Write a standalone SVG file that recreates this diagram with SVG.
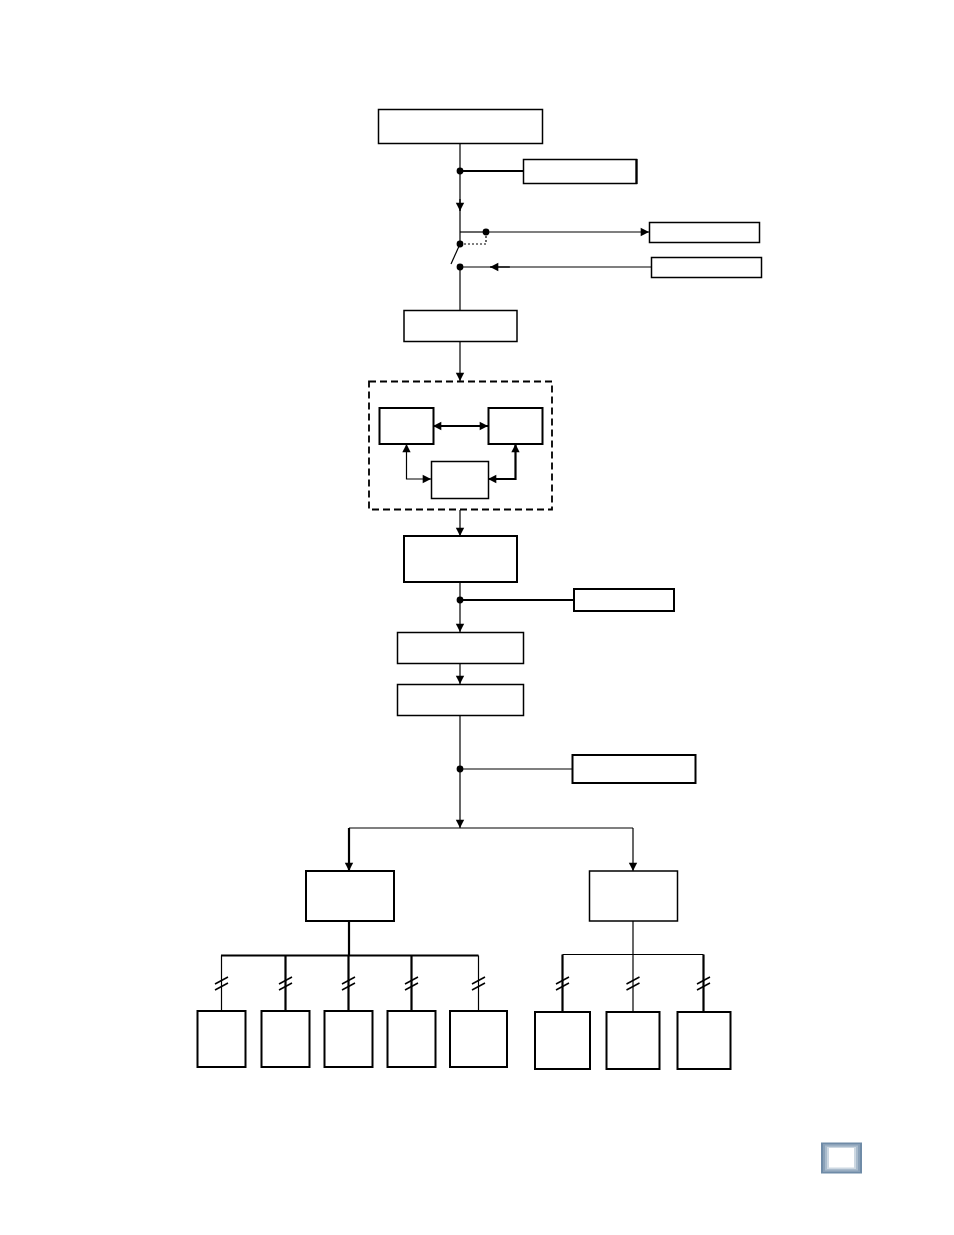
<svg xmlns="http://www.w3.org/2000/svg" width="954" height="1235" viewBox="0 0 954 1235">
<style>
.box{fill:#fff;stroke:#000;stroke-width:1.5}
.tb{fill:#fff;stroke:#000;stroke-width:2}
.ln{fill:none;stroke:#000;stroke-width:1.2}
.lt{fill:none;stroke:#000;stroke-width:2.2}
.dot{fill:#000}
.brk{fill:none;stroke:#000;stroke-width:1.5}
</style>
<defs>
<marker id="ah" viewBox="0 0 10 12" refX="10" refY="6" markerWidth="11" markerHeight="10" markerUnits="userSpaceOnUse" orient="auto-start-reverse">
<path d="M0,1 L10,6 L0,11 Z" fill="#000"/>
</marker>
</defs>
<rect width="954" height="1235" fill="#fff"/>

<g id="connectors">
<path class="ln" d="M460,143 V232"/>
<path class="ln" d="M460,199 V211" marker-end="url(#ah)"/>
<path class="lt" d="M460,171 H523"/>
<path class="ln" d="M460,232 H486"/>
<path class="ln" d="M486,232 H649" marker-end="url(#ah)"/>
<path class="ln" d="M460,232 V244"/>
<path class="ln" d="M460,244 H486 V232" stroke-dasharray="2,2"/>
<path class="ln" d="M460,244 L451,264"/>
<path class="ln" d="M651,267 H460"/>
<path class="ln" d="M510,267 H490" marker-end="url(#ah)"/>
<path class="ln" d="M460,267 V310"/>
<path class="ln" d="M460,342 V381" marker-end="url(#ah)"/>
<path class="lt" d="M433,426 H488" marker-start="url(#ah)" marker-end="url(#ah)"/>
<path class="ln" d="M431,479 H406.5 V444" marker-start="url(#ah)" marker-end="url(#ah)"/>
<path class="lt" d="M488,479 H515.5 V444" marker-start="url(#ah)" marker-end="url(#ah)"/>
<path class="ln" d="M460,510 V536" marker-end="url(#ah)"/>
<path class="ln" d="M460,582 V632" marker-end="url(#ah)"/>
<path class="lt" d="M460,600 H573"/>
<path class="ln" d="M460,664 V684" marker-end="url(#ah)"/>
<path class="ln" d="M460,716 V828" marker-end="url(#ah)"/>
<path class="ln" d="M460,769 H572"/>
<path class="ln" d="M349,828 H633"/>
<path class="lt" d="M349,828 V871" marker-end="url(#ah)"/>
<path class="ln" d="M633,828 V871" marker-end="url(#ah)"/>
<path class="lt" d="M349,921 V955.5"/>
<path class="lt" d="M221,955.5 H478.5"/>
<path class="ln" d="M221.5,955.5 V1011"/>
<path class="lt" d="M285.5,955.5 V1011"/>
<path class="lt" d="M348.5,955.5 V1011"/>
<path class="lt" d="M411.5,955.5 V1011"/>
<path class="ln" d="M478.5,955.5 V1011"/>
<path class="ln" d="M633,921 V1012"/>
<path class="ln" d="M562.5,954.5 H703.5"/>
<path class="lt" d="M562.5,954.5 V1012"/>
<path class="lt" d="M703.5,954.5 V1012"/>
<g class="brk">
<path d="M215,984 L228,977 M215,990 L228,983"/>
<path d="M279,984 L292,977 M279,990 L292,983"/>
<path d="M342,984 L355,977 M342,990 L355,983"/>
<path d="M405,984 L418,977 M405,990 L418,983"/>
<path d="M472,984 L485,977 M472,990 L485,983"/>
<path d="M556,984 L569,977 M556,990 L569,983"/>
<path d="M626.5,984 L639.5,977 M626.5,990 L639.5,983"/>
<path d="M697,984 L710,977 M697,990 L710,983"/>
</g>
<circle class="dot" cx="460" cy="171" r="3.4"/>
<circle class="dot" cx="486" cy="232" r="3.4"/>
<circle class="dot" cx="460" cy="244" r="3.4"/>
<circle class="dot" cx="460" cy="267" r="3.4"/>
<circle class="dot" cx="460" cy="600" r="3.4"/>
<circle class="dot" cx="460" cy="769" r="3.4"/>
</g>

<g id="n-top"><rect class="box" x="378.5" y="109.5" width="164" height="34"/></g>
<g id="n-side1"><rect class="box" x="523.5" y="159.5" width="113" height="24"/><path d="M636.5,159 V184" stroke="#000" stroke-width="2.2"/></g>
<g id="n-out"><rect class="box" x="649.5" y="222.5" width="110" height="20"/></g>
<g id="n-in"><rect class="box" x="651.5" y="257.5" width="110" height="20"/></g>
<g id="n-2"><rect class="box" x="404" y="310.5" width="113" height="31"/></g>
<g id="n-group"><rect x="369" y="381.5" width="183" height="128" fill="none" stroke="#000" stroke-width="1.8" stroke-dasharray="7,4"/></g>
<g id="n-a"><rect class="tb" x="379.5" y="408" width="54" height="36"/></g>
<g id="n-b"><rect class="tb" x="488.5" y="408" width="54" height="36"/></g>
<g id="n-c"><rect class="box" x="431.5" y="461.5" width="57" height="37"/></g>
<g id="n-3"><rect class="tb" x="404" y="536" width="113" height="46"/></g>
<g id="n-side2"><rect class="tb" x="574" y="589" width="100" height="22"/></g>
<g id="n-4"><rect class="box" x="397.5" y="632.5" width="126" height="31"/></g>
<g id="n-5"><rect class="box" x="397.5" y="684.5" width="126" height="31"/></g>
<g id="n-side3"><rect class="tb" x="572.5" y="755" width="123" height="28"/></g>
<g id="n-L"><rect class="tb" x="306" y="871" width="88" height="50"/></g>
<g id="n-R"><rect class="box" x="589.5" y="871" width="88" height="50"/></g>
<g id="n-l1"><rect class="tb" x="197.5" y="1011" width="48" height="56"/></g>
<g id="n-l2"><rect class="tb" x="261.5" y="1011" width="48" height="56"/></g>
<g id="n-l3"><rect class="tb" x="324.5" y="1011" width="48" height="56"/></g>
<g id="n-l4"><rect class="tb" x="387.5" y="1011" width="48" height="56"/></g>
<g id="n-l5"><rect class="tb" x="450" y="1011" width="57" height="56"/></g>
<g id="n-r1"><rect class="tb" x="535" y="1012" width="55" height="57"/></g>
<g id="n-r2"><rect class="tb" x="606.5" y="1012" width="53" height="57"/></g>
<g id="n-r3"><rect class="tb" x="677.5" y="1012" width="53" height="57"/></g>

<g id="page-badge">
<rect x="821" y="1142.5" width="41" height="31" fill="#6f8ba7"/>
<rect x="823" y="1144" width="37" height="28" fill="#8aa1b8"/>
<rect x="825" y="1145.5" width="33" height="25" fill="#a9bbcc"/>
<rect x="827" y="1147" width="29" height="22" fill="#cdd8e2"/>
<rect x="829" y="1148" width="25" height="19.5" fill="#fff"/>
</g>
</svg>
